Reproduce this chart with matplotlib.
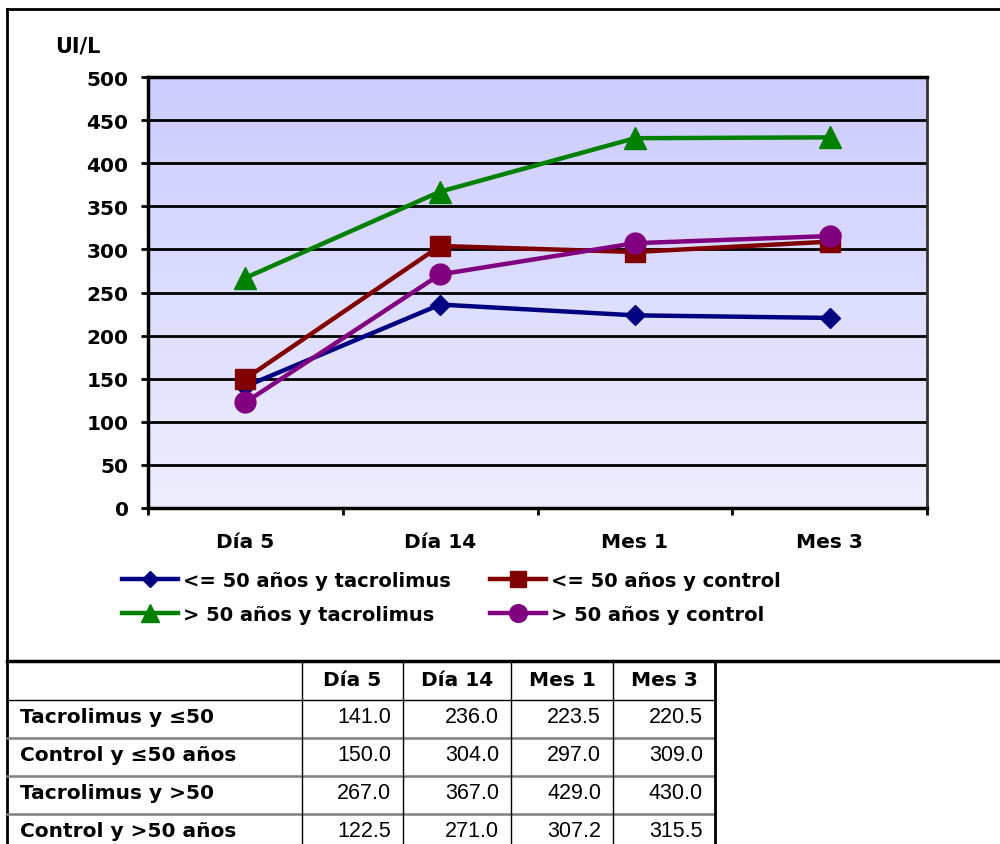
import numpy as np
import matplotlib.pyplot as plt
from matplotlib.lines import Line2D
from matplotlib.colors import LinearSegmentedColormap

categorias = ["Día 5", "Día 14", "Mes 1", "Mes 3"]
tacro_menor50 = [141.0, 236.0, 223.5, 220.5]
control_menor50 = [150.0, 304.0, 297.0, 309.0]
tacro_mayor50 = [267.0, 367.0, 429.0, 430.0]
control_mayor50 = [122.5, 271.0, 307.2, 315.5]

nombres_leyenda = ["<= 50 años y tacrolimus", "<= 50 años y control",
                   "> 50 años y tacrolimus", "> 50 años y control"]
nombres_tabla = ["Tacrolimus y ≤50", "Control y ≤50 años",
                 "Tacrolimus y >50", "Control y >50 años"]
valores_y = [0, 50, 100, 150, 200, 250, 300, 350, 400, 450, 500]

W, H = 1000, 845
fx = lambda x: x / W
fy = lambda y: 1 - y / H

fig = plt.figure(figsize=(10, 8.45), dpi=100)
ax = fig.add_axes([fx(148), fy(509), fx(927) - fx(148), fy(78) - fy(509)])

# fondo degradado del área de trazado
cmap = LinearSegmentedColormap.from_list("fondo", ["#EEEEFD", "#CCCCFF"])
ax.imshow(np.linspace(0, 1, 256).reshape(-1, 1), cmap=cmap, aspect="auto",
          origin="lower", extent=[0, 1, 0, 1], transform=ax.transAxes, zorder=0)

x = np.arange(1, len(categorias) + 1)
series = [
    (tacro_menor50, "#000080", "D", 10),
    (control_menor50, "#800000", "s", 14),
    (tacro_mayor50, "#008000", "^", 16),
    (control_mayor50, "#800080", "o", 15),
]
lineas = []
for (vals, color, marca, ms), nombre in zip(series, nombres_leyenda):
    l, = ax.plot(x, vals, color=color, lw=3.2, marker=marca, ms=ms, mec=color,
                 mfc=color, label=nombre, zorder=3, clip_on=False)
    lineas.append(l)

ax.set_xlim(0.5, len(categorias) + 0.5)
ax.set_ylim(0, 500)
ax.set_yticks(valores_y)
ax.set_yticklabels([str(v) for v in valores_y], fontsize=14.5, fontweight="bold")
ax.set_xticks(np.arange(0.5, len(categorias) + 1, 1))
ax.set_xticklabels([])
ax.set_xticks(x, minor=True)
ax.set_xticklabels(categorias, minor=True, fontsize=14.5, fontweight="bold")
ax.tick_params(axis="x", which="minor", length=0, pad=17)
ax.tick_params(axis="x", which="major", length=5, width=2, direction="out")
ax.tick_params(axis="y", length=5, width=2, pad=9)
ax.yaxis.grid(True, color="black", lw=2)
ax.set_axisbelow(True)
for s in ["left", "bottom", "top"]:
    ax.spines[s].set_linewidth(2.5)
ax.spines["right"].set_linewidth(2)
ax.spines["right"].set_color("#333333")

fig.text(fx(55), fy(47), "UI/L", fontsize=15, fontweight="bold", va="center", ha="left")

# leyenda en dos filas
orden = [0, 2, 1, 3]
fig.legend([lineas[i] for i in orden], [nombres_leyenda[i] for i in orden],
           ncol=2, loc="upper left", bbox_to_anchor=(fx(122), fy(572)),
           frameon=False, handlelength=2.9, handletextpad=0.25, columnspacing=2.0,
           labelspacing=0.75, borderpad=0, borderaxespad=0, markerscale=0.85,
           prop={"size": 14, "weight": "bold"})

# marco exterior
def linea(x0, y0, x1, y1, color="black", lw=2):
    fig.add_artist(Line2D([fx(x0), fx(x1)], [fy(y0), fy(y1)], color=color, lw=lw,
                          transform=fig.transFigure))

linea(7, 10, W, 10)
linea(7, 10, 7, H)
linea(7, 662, W, 662, lw=2.5)

# tabla de valores
cols = [7, 302, 403, 511, 613, 715]
filas = [663, 701, 739, 777, 815, 853]
linea(7, 701, 715, 701, lw=1)
for yy in filas[2:-1]:
    linea(7, yy, 715, yy, color="#808080", lw=1.8)
for xx in cols[1:-1]:
    linea(xx, 663, xx, H, lw=1)
linea(715, 663, 715, H, lw=2)

for j, cat in enumerate(categorias):
    fig.text(fx((cols[j + 1] + cols[j + 2]) / 2), fy((filas[0] + filas[1]) / 2 - 1), cat,
             ha="center", va="center", fontsize=14.5, fontweight="bold")
for i, (nombre, (vals, *_)) in enumerate(zip(nombres_tabla, series)):
    yc = fy((filas[i + 1] + filas[i + 2]) / 2 - 2)
    fig.text(fx(20), yc, nombre, ha="left", va="center", fontsize=14.5, fontweight="bold")
    for j, v in enumerate(vals):
        fig.text(fx(cols[j + 2] - 12), yc, f"{v:.1f}", ha="right", va="center",
                 fontsize=15.5, family="Liberation Sans")

fig.savefig("out.png", dpi=100)
